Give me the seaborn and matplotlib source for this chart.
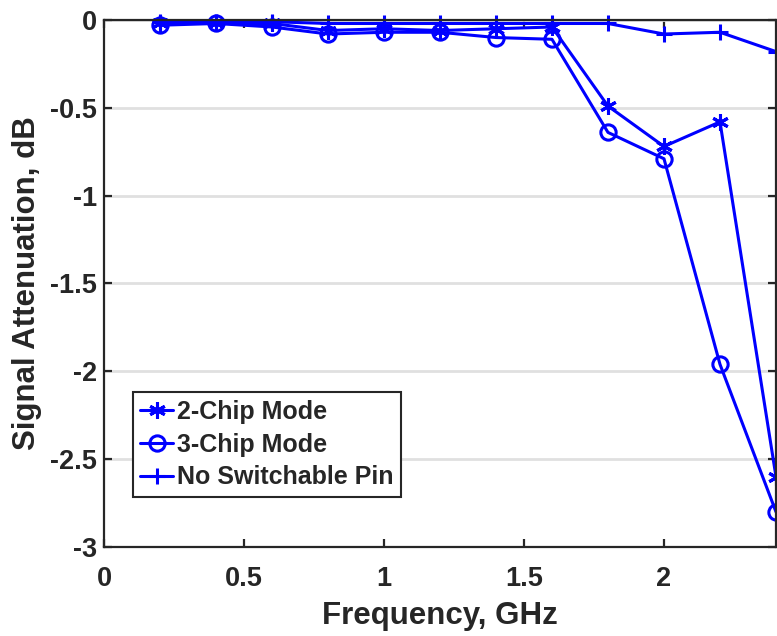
import matplotlib
matplotlib.use("Agg")
import matplotlib.pyplot as plt
import seaborn as sns
import pandas as pd

freq = [0.2, 0.4, 0.6, 0.8, 1.0, 1.2, 1.4, 1.6, 1.8, 2.0, 2.2, 2.4]
two_chip = [-0.02, -0.02, -0.02, -0.06, -0.05, -0.06, -0.05, -0.04, -0.49, -0.72, -0.58, -2.60]
three_chip = [-0.03, -0.02, -0.04, -0.08, -0.07, -0.07, -0.10, -0.11, -0.64, -0.79, -1.96, -2.80]
no_switch = [-0.01, -0.01, -0.01, -0.02, -0.02, -0.02, -0.02, -0.02, -0.02, -0.08, -0.07, -0.18]
labels = ["2-Chip Mode", "3-Chip Mode", "No Switchable Pin"]
yticks = [0, -0.5, -1, -1.5, -2, -2.5, -3]
ytick_labels = ["0", "-0.5", "-1", "-1.5", "-2", "-2.5", "-3"]
xticks = [0, 0.5, 1, 1.5, 2]
xtick_labels = ["0", "0.5", "1", "1.5", "2"]

sns.set_theme(style="white")
plt.rcParams["font.family"] = ["Liberation Sans", "DejaVu Sans"]
plt.rcParams["font.weight"] = "bold"

fig = plt.figure(figsize=(7.77, 6.36), dpi=100)
ax = fig.add_axes([0.1338, 0.1399, 0.8649, 0.8287])

markers = [(6, 2, 0), "o", "+"]
series = [two_chip, three_chip, no_switch]
for vals, lab, m in zip(series, labels, markers):
    df = pd.DataFrame({"f": freq, "v": vals})
    kw = dict(marker=m, color="#0000ff", linewidth=2.2, markersize=12 if m != "o" else 11,
              markeredgewidth=2.2, label=lab, clip_on=False)
    if m == "o":
        kw["markerfacecolor"] = "none"
    kw["markeredgecolor"] = "#0000ff"
    sns.lineplot(data=df, x="f", y="v", ax=ax, **kw)

ax.set_xlim(0, 2.4)
ax.set_ylim(-3, 0)
ax.set_xticks(xticks)
ax.set_xticklabels(xtick_labels)
ax.set_yticks(yticks)
ax.set_yticklabels(ytick_labels)
ax.yaxis.grid(True, color="#e0e0e0", linewidth=2)
ax.xaxis.grid(False)
ax.set_axisbelow(True)
for s in ax.spines.values():
    s.set_visible(True)
    s.set_color("#262626")
    s.set_linewidth(1.6)
ax.tick_params(direction="in", length=6, width=1.6, color="#262626",
               labelsize=19.5, labelcolor="#262626", pad=5,
               top=True, right=True, bottom=True, left=True)
ax.tick_params(axis="x", pad=14)
for t in ax.get_xticklabels() + ax.get_yticklabels():
    t.set_fontweight("bold")
ax.set_xlabel("Frequency, GHz", fontsize=22.5, fontweight="bold", color="#262626", labelpad=6)
ax.set_ylabel("Signal Attenuation, dB", fontsize=22.5, fontweight="bold", color="#262626", labelpad=6)

leg = ax.legend(loc="lower left", bbox_to_anchor=(0.043, 0.095), frameon=True, fancybox=False,
                prop={"weight": "bold", "size": 18}, handlelength=1.3, handletextpad=0.15,
                borderpad=0.3, labelspacing=0.35, borderaxespad=0)
leg.get_frame().set_edgecolor("#262626")
leg.get_frame().set_linewidth(1.5)
leg.get_frame().set_alpha(1)

fig.savefig("out.png", dpi=100)
